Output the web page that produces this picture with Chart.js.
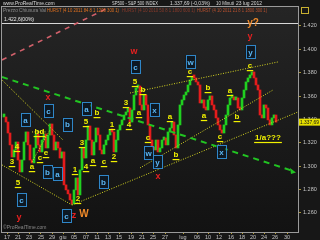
<!DOCTYPE html>
<html><head><meta charset="utf-8">
<script src="https://cdn.jsdelivr.net/npm/chart.js@4/dist/chart.umd.min.js"></script>
<style>
html,body{margin:0;padding:0;background:#161616;overflow:hidden}
canvas{display:block}
</style></head><body>
<canvas id="c" width="320" height="240"></canvas>
<script>
// ---- data ----
const closes = [1342.1,1337.8,1328.4,1318.2,1307.9,1313.9,1320.7,1305.3,1295.1,1305.3,
1320.7,1329.3,1318.2,1305.3,1302.8,1315.6,1327.6,1318.2,1312.2,1322.4,
1327.6,1315.6,1326.7,1336.1,1326.7,1313.9,1320.7,1315.6,1307.0,1312.2,
1284.0,1279.7,1276.3,1271.1,1267.7,1279.7,1289.9,1275.4,1296.8,1315.6,
1307.0,1322.4,1334.4,1322.4,1309.6,1320.7,1332.7,1326.7,1313.9,1310.5,
1318.2,1322.4,1326.7,1331.0,1329.3,1312.2,1322.4,1331.0,1335.3,1339.6,
1343.8,1346.4,1349.8,1337.8,1348.1,1360.9,1366.9,1368.6,1352.4,1348.1,
1360.9,1352.4,1335.3,1322.4,1315.6,1313.9,1322.4,1312.2,1315.6,1322.4,
1324.2,1318.2,1329.3,1332.7,1337.8,1326.7,1315.6,1335.3,1352.4,1356.7,
1360.9,1363.5,1369.5,1373.8,1376.3,1375.5,1372.1,1369.5,1354.1,1356.7,
1349.8,1348.1,1356.7,1360.1,1352.4,1348.1,1341.3,1335.3,1331.0,1328.4,
1335.3,1343.8,1352.4,1358.4,1359.2,1356.7,1358.4,1349.8,1348.1,1358.4,
1365.2,1372.1,1375.5,1378.0,1380.6,1375.5,1369.5,1365.2,1343.8,1341.3,
1352.4,1349.8,1339.6,1335.3,1341.3,1343.8,1337.7];
const xTickPos = [1.5,7,12.5,18.5,24,29.5,35,41,46.5,52,57.5,63.5,69,74.5,80.5,89.5,96.5,102,107.5,113.5,119,124.5,130,135.5,141.5];
const xTickLabels = ["17","21","23","25","29","giu","05","07","11","13","15","19","21","25","27","lug","06","10","12","16","18","20","24","26","30"];
const yTickValues = [1260,1280,1300,1320,1340,1360,1380,1400,1420];
const lastPrice = 1337.69;
const refLevel = 1422.6;
// wave labels: [text, bar index, price]
const yellowLabels = [["3",4,1303.6],["4",6.5,1316.5],["5",7,1285.7],["b",16.5,1329.3],["d",19,1329.3],
["a",14,1299.3],["c",18,1307.0],["e",21,1311.3],["1",35.5,1296.8],["2",37,1272.0],["3",39,1319.9],
["4",41,1299.3],["5",41,1337.8],["a",44.5,1304.5],["b",46.5,1345.5],["c",50,1303.6],["1",54,1335.3],
["2",55,1307.9],["3",61,1354.1],["4",62.5,1335.3],["5",65.5,1372.1],["a",67.5,1345.5],["b",69.5,1365.2],
["c",72,1324.2],["a",83,1342.1],["b",86,1309.6],["c",93,1380.6],["a",100,1343.0],["b",102,1366.9],
["c",108,1325.0],["a",113,1364.4],["b",116.5,1342.1],["c",123,1385.7],["1/a???",132,1324.2]];
const boxLabels = [["a",10.5,1339.6],["c",22,1347.3],["b",31.5,1336.1],["a",41,1349.0],["b",21.5,1295.1],
["a",26.5,1293.4],["c",8.5,1271.1],["c",31,1257.4],["b",49.5,1286.5],["c",65.5,1384.9],["x",75,1348.1],
["w",93,1389.2],["w",72,1311.3],["y",76.5,1303.6],["x",108.5,1312.2],["y",123,1397.7]];
const redLabels = [["x",22,1358.4],["w",65,1397.7],["x",77,1290.8],["y",123,1410.6],["y",7.5,1255.7],["z",35,1257.4]];
const orangeLabels = [["W",40,1259.1],["y?",124.5,1422.0]];
// trend lines: [i1, v1, i2, v2]
const greenLine = [-1,1376.3,144.5,1295.9];
const pinkLine = [-1,1390.9,52,1435.4];
const yellowLines = [[-1,1373.8,29.5,1322.4],[-1,1301.1,34,1266.8],[34,1266.8,147,1346.4],
[68,1298.5,134.5,1365.2],[63,1362.6,137,1389.2],[14,1303.6,23,1331.0],[14,1329.3,21,1329.3]];

const fmt = v => Math.floor(v/1000)+'.'+String(Math.round(v%1000)).padStart(3,'0');
const F = 'Liberation Sans, Arial, sans-serif';

const overlay = {
  id:'overlay',
  beforeDraw(chart){
    const {ctx, chartArea:a} = chart;
    ctx.save();
    ctx.fillStyle='#171717'; ctx.fillRect(0,0,320,240);
    const g = ctx.createLinearGradient(0,a.top,0,a.bottom);
    g.addColorStop(0,'#252525'); g.addColorStop(1,'#121212');
    ctx.fillStyle=g; ctx.fillRect(a.left,a.top,a.right-a.left,a.bottom-a.top);
    ctx.restore();
  },
  afterDatasetsDraw(chart){
    const {ctx, chartArea:a, scales:{x,y}} = chart;
    const P = (i,v)=>[x.getPixelForValue(i), y.getPixelForValue(v)];
    ctx.save();
    ctx.beginPath(); ctx.rect(a.left,a.top,a.right-a.left,a.bottom-a.top); ctx.clip();
    const line=(L,color,w,dash)=>{const p=P(L[0],L[1]),q=P(L[2],L[3]);
      ctx.strokeStyle=color;ctx.lineWidth=w;ctx.setLineDash(dash);
      ctx.beginPath();ctx.moveTo(p[0],p[1]);ctx.lineTo(q[0],q[1]);ctx.stroke();};
    const ry = y.getPixelForValue(refLevel);
    ctx.strokeStyle='#d8d8d8';ctx.lineWidth=1;ctx.setLineDash([]);
    ctx.beginPath();ctx.moveTo(a.left,Math.round(ry)+0.5);ctx.lineTo(a.right,Math.round(ry)+0.5);ctx.stroke();
    ctx.fillStyle='#e8e8e8';ctx.font='5px '+F;ctx.textBaseline='bottom';ctx.textAlign='left';
    ctx.fillText('1.422,6(00%)',a.left+2,ry-0.5);
    line(pinkLine,'#d0606a',1.6,[5,5]);
    yellowLines.forEach(L=>line(L,'#d8d820',1,[1,1.5]));
    line(greenLine,'#22c422',2,[6,5]);
    const e=P(greenLine[2],greenLine[3]);
    ctx.setLineDash([]);ctx.fillStyle='#22c422';
    ctx.beginPath();ctx.moveTo(e[0]+3,e[1]+1.5);ctx.lineTo(e[0]-3,e[1]-3);ctx.lineTo(e[0]-2,e[1]+3);ctx.closePath();ctx.fill();
    ctx.textAlign='center';ctx.textBaseline='middle';
    boxLabels.forEach(([t,i,v])=>{const [px,py]=P(i,v);
      ctx.fillStyle='#0d1822';ctx.fillRect(px-4.5,py-6.5,9,13);
      ctx.strokeStyle='#2f86c8';ctx.lineWidth=1;ctx.strokeRect(Math.round(px-4.5)+0.5,Math.round(py-6.5)+0.5,9,13);
      ctx.fillStyle='#5cb6f2';ctx.font='bold 8px '+F;ctx.fillText(t,px+0.5,py+0.5);});
    yellowLabels.forEach(([t,i,v])=>{const [px,py]=P(i,v);
      ctx.font='bold 8px '+F;ctx.fillStyle='#f2f200';ctx.fillText(t,px,py);
      const w=ctx.measureText(t).width+2;ctx.fillRect(px-w/2,py+4,w,1.2);});
    redLabels.forEach(([t,i,v])=>{const [px,py]=P(i,v);
      ctx.font='bold 9px '+F;ctx.fillStyle='#e62020';ctx.fillText(t,px,py);});
    orangeLabels.forEach(([t,i,v])=>{const [px,py]=P(i,v);
      ctx.font='bold 10px '+F;ctx.fillStyle='#f08a2a';ctx.fillText(t,px,py);});
    ctx.textAlign='left';ctx.font='5px '+F;ctx.fillStyle='#8a8a8a';
    ctx.fillText('©ProRealTime.com',a.left+1,a.bottom-4);
    ctx.restore();
  },
  afterDraw(chart){
    const {ctx, chartArea:a, scales:{y}} = chart;
    ctx.save();
    ctx.strokeStyle='#9a9a9a';ctx.lineWidth=1;ctx.setLineDash([]);
    ctx.strokeRect(a.left-0.5,a.top-0.5,a.right-a.left+1,a.bottom-a.top+1);
    const ly=y.getPixelForValue(lastPrice);
    ctx.fillStyle='#e6e000';ctx.fillRect(a.right+1,ly-3.5,21,7);
    ctx.fillStyle='#111';ctx.font='5px '+F;ctx.textAlign='left';ctx.textBaseline='middle';
    ctx.fillText('1.337,69',a.right+2,ly+0.5,19);
    ctx.textBaseline='middle';ctx.font='5px '+F;ctx.fillStyle='#dadada';
    ctx.fillText('www.ProRealTime.com',3,4,55);
    ctx.fillText('SP500 - S&P 500 INDEX',112,4,46);
    ctx.fillText('1.337,69 (-0,03%)',170,4,41);
    ctx.fillText('10 Minuti',216,4,18);
    ctx.fillText('23 lug 2012',236,4,26);
    ctx.font='5px '+F;
    ctx.fillStyle='#8c8c8c';ctx.fillText('Prezzo Chiusura Val',3,11,43);
    ctx.fillStyle='#e0701e';ctx.fillText('HURST (4 10 2011 84 8 1 1200 300 1)',47,11,72);
    ctx.fillStyle='#8a3a2a';ctx.fillText('HURST (4 10 2010 50 8 1 1800 600 1)',122,11,73);
    ctx.fillStyle='#b8502e';ctx.fillText('HURST (4 10 2011 21 8 1 1800 300 1)',197,11,70);
    ctx.strokeStyle='#c8b030';ctx.strokeRect(301.5,7.5,7,6);
    ctx.restore();
  }
};

new Chart(document.getElementById('c').getContext('2d'), {
  type:'bar',
  data:{datasets:[{
    data: closes.map((c,i)=>({x:i, y:[i?closes[i-1]:c, c]})),
    backgroundColor: closes.map((c,i)=>(i===0||c>=closes[i-1])?'#20d020':'#e41c1c'),
    barThickness:2, minBarLength:3, borderWidth:0, grouped:false
  }]},
  options:{
    responsive:false, animation:false, events:[],
    layout:{padding:{top:7,left:2,right:0,bottom:0}},
    plugins:{legend:{display:false},tooltip:{enabled:false}},
    scales:{
      x:{type:'linear',min:-1,max:147,offset:false,
        afterBuildTicks:s=>{s.ticks=xTickPos.map(v=>({value:v}));},
        afterFit:s=>{s.height=8;},
        ticks:{callback:(v,i)=>xTickLabels[i],autoSkip:false,maxRotation:0,padding:0,
          font:{size:5.5,family:F},color:'#c4c4c4'},
        grid:{drawOnChartArea:false,offset:false,tickLength:2,color:'#b8a030'},
        border:{display:false}},
      y:{position:'right',min:1243.7,max:1436.2,
        afterBuildTicks:s=>{s.ticks=yTickValues.map(v=>({value:v}));},
        afterFit:s=>{s.width=22;},
        ticks:{callback:v=>fmt(v),padding:2,font:{size:5.5,family:F},color:'#c4c4c4'},
        grid:{drawOnChartArea:false,tickLength:3,color:'#a89438'},
        border:{display:false}}
    }
  },
  plugins:[overlay]
});
</script>
</body></html>
